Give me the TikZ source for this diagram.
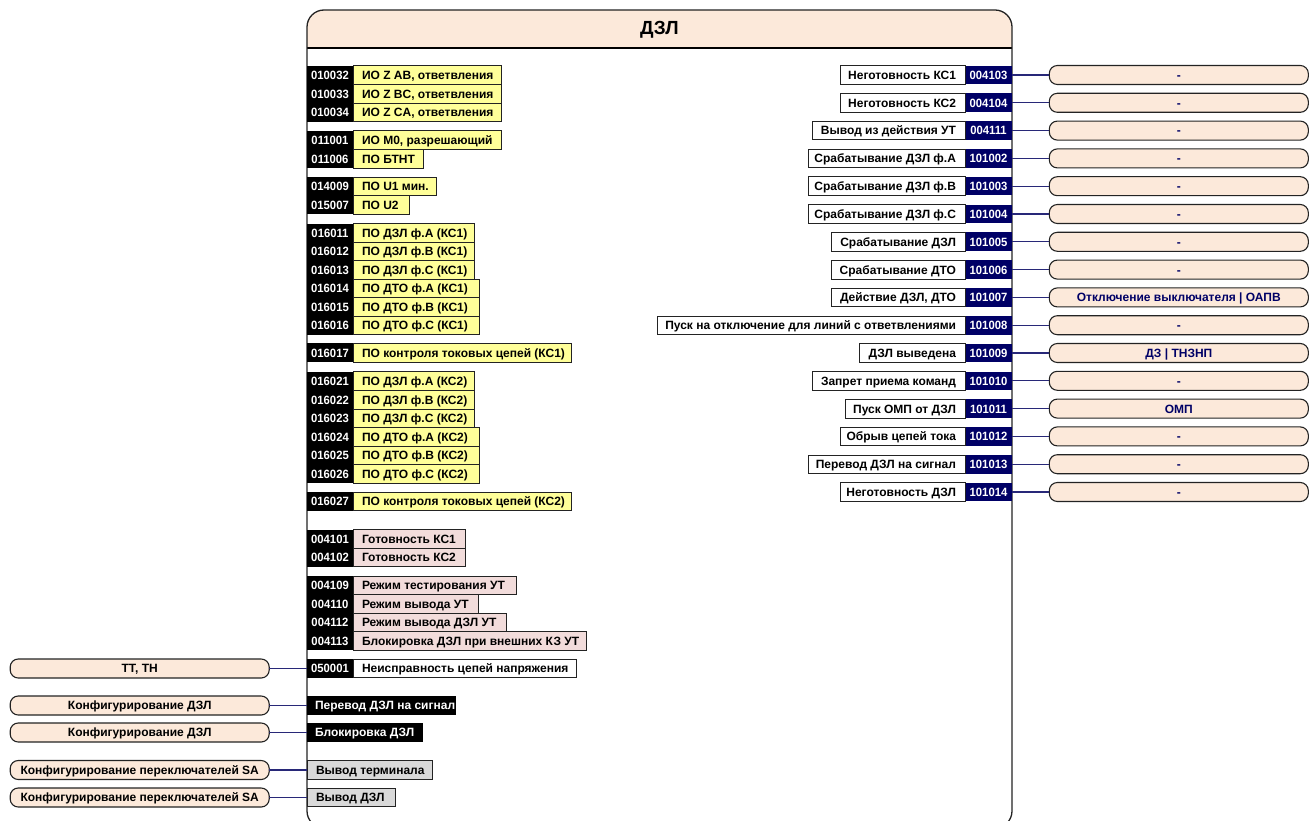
\documentclass[tikz,border=0pt]{standalone}
\usepackage{fontspec}
\setmainfont{Liberation Sans}
\newfontfamily\codefont{Liberation Sans}[FakeStretch=0.94]
\definecolor{peach}{RGB}{252,233,218}
\definecolor{yel}{RGB}{255,255,153}
\definecolor{pinkc}{RGB}{242,220,219}
\definecolor{grayc}{RGB}{217,217,217}
\definecolor{navyc}{RGB}{0,0,102}
\definecolor{connc}{RGB}{40,40,120}
\definecolor{edge}{RGB}{35,35,35}
\newcommand\mylbox[2]{\makebox[#1pt][l]{#2}}
\newcommand\myrbox[2]{\makebox[#1pt][r]{#2}}
\begin{document}
\begin{tikzpicture}[x=1pt,y=-1pt,
  base/.style={font=\bfseries\fontsize{12}{14}\selectfont, text height=10pt, text depth=1.2pt, minimum height=18.6pt, inner ysep=0pt, inner xsep=0pt, outer sep=0pt, anchor=west},
  codebox/.style={base, font=\codefont\bfseries\fontsize{12}{14}\selectfont, fill=black, text=white, minimum width=46pt},
  outcode/.style={codebox, fill=navyc, minimum width=47pt, anchor=east},
  lab/.style={base, draw=edge, line width=0.8pt, inner xsep=9pt},
  rlab/.style={lab, fill=white, anchor=east},
  blab/.style={base, fill=black, text=white, inner xsep=8pt},
  term/.style={base, draw=edge, line width=1.1pt, fill=peach, rounded corners=8pt, minimum width=259pt, minimum height=19pt, anchor=center},
  conn/.style={draw=connc, line width=1.1pt}]
\useasboundingbox (0,0) rectangle (1309,821);
\clip (0,0) rectangle (1309,821);
% main block
\coordinate (bTL) at (307,10);
\coordinate (bBR) at (1012,828);
\begin{scope}
  \clip[rounded corners=17pt] (bTL) rectangle (bBR);
  \fill[peach] (307,10) rectangle (1012,48);
\end{scope}
\draw[line width=2pt] (307,48) -- (1012,48);
\draw[edge, line width=1.3pt, rounded corners=17pt] (bTL) rectangle (bBR);
\node[font=\bfseries\fontsize{19}{22}\selectfont] (title) at (659.5,30) {ДЗЛ};
% left rows
\foreach \y/\code/\w/\txt/\col in {
  75/010032/130.7/{ИО Z AB, ответвления}/yel,
  93.7/010033/130.7/{ИО Z BC, ответвления}/yel,
  112.3/010034/130.7/{ИО Z CA, ответвления}/yel,
  140/011001/130.7/{ИО M0, разрешающий}/yel,
  158.7/011006/52.3/{ПО БТНТ}/yel,
  186.6/014009/65.7/{ПО U1 мин.}/yel,
  205.2/015007/38.3/{ПО U2}/yel,
  232.9/016011/103.3/{ПО ДЗЛ ф.A (КС1)}/yel,
  251.3/016012/103.3/{ПО ДЗЛ ф.B (КС1)}/yel,
  269.8/016013/103.3/{ПО ДЗЛ ф.C (КС1)}/yel,
  288.3/016014/108/{ПО ДТО ф.A (КС1)}/yel,
  306.8/016015/108/{ПО ДТО ф.B (КС1)}/yel,
  325.3/016016/108/{ПО ДТО ф.C (КС1)}/yel,
  352.6/016017/200.7/{ПО контроля токовых цепей (КС1)}/yel,
  381/016021/103.3/{ПО ДЗЛ ф.A (КС2)}/yel,
  399.6/016022/103.3/{ПО ДЗЛ ф.B (КС2)}/yel,
  418.2/016023/103.3/{ПО ДЗЛ ф.C (КС2)}/yel,
  436.8/016024/108/{ПО ДТО ф.A (КС2)}/yel,
  455.3/016025/108/{ПО ДТО ф.B (КС2)}/yel,
  473.8/016026/108/{ПО ДТО ф.C (КС2)}/yel,
  501.5/016027/200.7/{ПО контроля токовых цепей (КС2)}/yel,
  539/004101/94/{Готовность КС1}/pinkc,
  557.5/004102/94/{Готовность КС2}/pinkc,
  585.5/004109/145/{Режим тестирования УТ}/pinkc,
  604/004110/107.3/{Режим вывода УТ}/pinkc,
  622.5/004112/135.7/{Режим вывода ДЗЛ УТ}/pinkc,
  641/004113/215/{Блокировка ДЗЛ при внешних КЗ УТ}/pinkc,
  668.5/050001/205/{Неисправность цепей напряжения}/white}{
  \node[codebox] (c\code) at (307,\y) {\code};
  \node[lab, fill=\col] (l\code) at (353,\y) {\mylbox{\w}{\txt}};
}
% left bottom boxes
\node[blab] (bPer) at (307,705.5) {\mylbox{133}{Перевод ДЗЛ на сигнал}};
\node[blab] (bBlk) at (307,732.5) {\mylbox{100.3}{Блокировка ДЗЛ}};
\node[lab, fill=grayc] (bVT) at (307,770) {\mylbox{107}{Вывод терминала}};
\node[lab, fill=grayc] (bVD) at (307,797.5) {\mylbox{70}{Вывод ДЗЛ}};
% left terminals
\node[term] (tTT) at (139.7,668.5) {ТТ, ТН};
\node[term] (tK1) at (139.7,705.5) {Конфигурирование ДЗЛ};
\node[term] (tK2) at (139.7,732.5) {Конфигурирование ДЗЛ};
\node[term] (tS1) at (139.7,770) {Конфигурирование переключателей SA};
\node[term] (tS2) at (139.7,797.5) {Конфигурирование переключателей SA};
\draw[conn] (tTT.east) -- (c050001.west);
\draw[conn] (tK1.east) -- (bPer.west);
\draw[conn] (tK2.east) -- (bBlk.west);
\draw[conn] (tS1.east) -- (bVT.west);
\draw[conn] (tS2.east) -- (bVD.west);
% right rows
\foreach \i/\code/\w/\txt/\out in {
  0/004103/106.3/{Неготовность КС1}/{-},
  1/004104/106.3/{Неготовность КС2}/{-},
  2/004111/134.3/{Вывод из действия УТ}/{-},
  3/101002/139/{Срабатывание ДЗЛ ф.A}/{-},
  4/101003/139/{Срабатывание ДЗЛ ф.B}/{-},
  5/101004/139/{Срабатывание ДЗЛ ф.C}/{-},
  6/101005/116/{Срабатывание ДЗЛ}/{-},
  7/101006/116/{Срабатывание ДТО}/{-},
  8/101007/115.3/{Действие ДЗЛ, ДТО}/{Отключение выключателя | ОАПВ},
  9/101008/289.3/{Пуск на отключение для линий с ответвлениями}/{-},
  10/101009/87.7/{ДЗЛ выведена}/{ДЗ | ТНЗНП},
  11/101010/134.3/{Запрет приема команд}/{-},
  12/101011/102/{Пуск ОМП от ДЗЛ}/{ОМП},
  13/101012/106.3/{Обрыв цепей тока}/{-},
  14/101013/139/{Перевод ДЗЛ на сигнал}/{-},
  15/101014/106.3/{Неготовность ДЗЛ}/{-}}{
  \pgfmathsetmacro\yy{75+27.8*\i}
  \node[outcode] (oc\code) at (1012,\yy) {\code};
  \node[rlab] (ol\code) at (965,\yy) {\myrbox{\w}{\txt}};
  \node[term, text=navyc] (t\code) at (1178.8,\yy) {\out};
  \draw[conn] (oc\code.east) -- (t\code.west);
}
\end{tikzpicture}
\end{document}
